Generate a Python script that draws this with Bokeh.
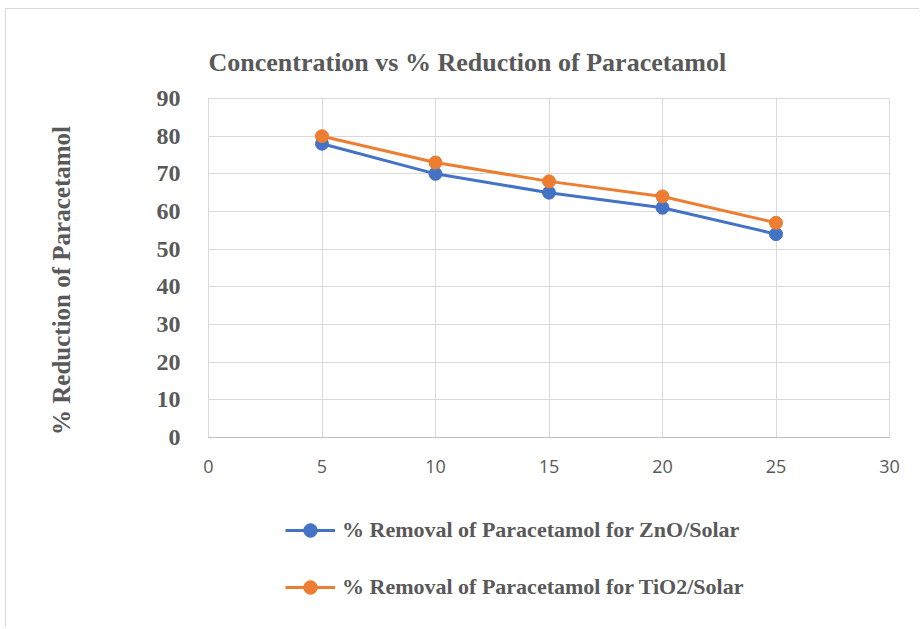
from bokeh.plotting import figure
from bokeh.models import Range1d, FixedTicker, Legend, LegendItem, Title
from bokeh.layouts import column
from bokeh.embed import file_html
from bokeh.resources import INLINE

concentration = [5, 10, 15, 20, 25]
zno_solar = [78, 70, 65, 61, 54]
tio2_solar = [80, 73, 68, 64, 57]
x_ticks = [0, 5, 10, 15, 20, 25, 30]
y_ticks = [0, 10, 20, 30, 40, 50, 60, 70, 80, 90]
series_names = ["% Removal of Paracetamol for ZnO/Solar", "% Removal of Paracetamol for TiO2/Solar"]
colors = ["#4472C4", "#ED7D31"]

SERIF = "Liberation Serif"
GRAY = "#595959"

p = figure(frame_width=681, frame_height=339, output_backend="svg", toolbar_location=None,
           x_range=Range1d(0, 30), y_range=Range1d(0, 90),
           min_border_left=202, min_border_right=30, min_border_top=89, min_border_bottom=50)

t = Title(text="Concentration vs % Reduction of Paracetamol", align="left", offset=0,
          vertical_align="top",
          text_font=SERIF, text_font_style="bold", text_font_size="26px", text_color=GRAY,
          standoff=40)
p.add_layout(t, "above")

p.outline_line_color = "#d9d9d9"
p.grid.grid_line_color = "#d9d9d9"
p.xaxis.ticker = FixedTicker(ticks=x_ticks)
p.yaxis.ticker = FixedTicker(ticks=y_ticks)
p.xaxis.axis_line_color = "#bfbfbf"
p.yaxis.axis_line_color = "#d9d9d9"
for ax in (p.xaxis, p.yaxis):
    ax.major_tick_line_color = None
    ax.minor_tick_line_color = None
    ax.major_label_text_color = GRAY
p.xaxis.major_label_text_font = "Open Sans"
p.xaxis.major_label_text_font_size = "18px"
p.xaxis.major_label_standoff = 16
p.yaxis.major_label_text_font = SERIF
p.yaxis.major_label_text_font_style = "bold"
p.yaxis.major_label_text_font_size = "24px"
p.yaxis.major_label_standoff = 22
p.yaxis.axis_label = "% Reduction of Paracetamol\u00a0\u00a0\u00a0\u00a0"
p.yaxis.axis_label_text_font = SERIF
p.yaxis.axis_label_text_font_style = "bold"
p.yaxis.axis_label_text_font_size = "25px"
p.yaxis.axis_label_text_color = GRAY
p.yaxis.axis_label_standoff = 79

for ys, c in zip([zno_solar, tio2_solar], colors):
    p.line(concentration, ys, line_color=c, line_width=3)
    p.scatter(concentration, ys, size=13, fill_color=c, line_color=c)

# legend panel below the chart
leg = figure(width=913, height=140, output_backend="svg", toolbar_location=None,
             x_range=Range1d(-100, -99), y_range=Range1d(-100, -99),
             x_axis_type=None, y_axis_type=None,
             min_border_left=0, min_border_right=0, min_border_top=0, min_border_bottom=0)
leg.outline_line_color = None
leg.grid.visible = False
items = []
for ys, name, c in zip([zno_solar, tio2_solar], series_names, colors):
    r1 = leg.line(concentration, ys, line_color=c, line_width=3)
    r2 = leg.scatter(concentration, ys, size=13, fill_color=c, line_color=c)
    items.append(LegendItem(label=name, renderers=[r1, r2]))

legend = Legend(items=items, location=(77, 23), orientation="vertical",
                label_text_font=SERIF, label_text_font_style="bold", label_text_font_size="22px",
                label_text_color=GRAY, glyph_width=50, glyph_height=34, label_height=34,
                spacing=23, padding=0, margin=0, border_line_alpha=0,
                background_fill_alpha=0, label_standoff=7)
leg.add_layout(legend, "center")

layout = column(p, leg, spacing=0)
layout.styles = {"margin-left": "5px", "margin-top": "8px",
                 "border-left": "1px solid #d9d9d9", "border-top": "1px solid #d9d9d9"}

open("out.html", "w").write(file_html(layout, INLINE))
